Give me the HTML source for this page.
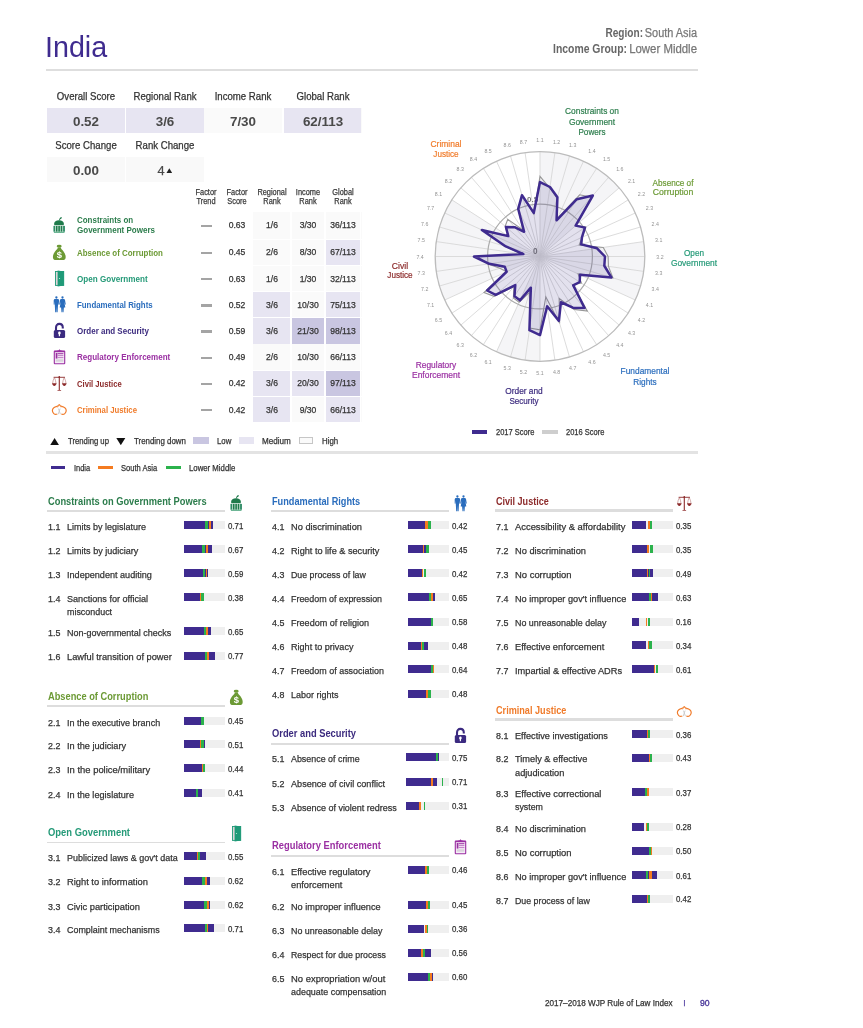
<!DOCTYPE html>
<html><head><meta charset="utf-8"><title>India - WJP Rule of Law Index</title>
<style>
html,body{margin:0;padding:0;background:#fff;}
body{width:863px;height:1028px;position:relative;overflow:hidden;font-family:"Liberation Sans",sans-serif;}
.t{position:absolute;white-space:nowrap;line-height:1;-webkit-text-stroke:0.25px;}
.b{-webkit-text-stroke:0;}
.r,.a{position:absolute;}
#page{position:absolute;left:0;top:0;width:863px;height:1028px;will-change:transform;}
svg text{font-family:"Liberation Sans",sans-serif;}
</style></head><body>

<div id="page">
<div class="t" style="top:32px;font-size:29.80px;color:#3f2b8f;-webkit-text-stroke:0.00px;left:44.90px;transform:scaleX(0.9626);transform-origin:0 0;">India</div>
<div class="t" style="top:27px;font-size:12.00px;color:#777;left:397.20px;width:300px;text-align:right;transform:scaleX(0.9098);transform-origin:100% 0;">South Asia</div>
<div class="t b" style="top:27px;font-size:12.00px;color:#666;font-weight:700;left:342.60px;width:300px;text-align:right;transform:scaleX(0.8397);transform-origin:100% 0;">Region:</div>
<div class="t" style="top:43px;font-size:12.00px;color:#777;left:397.20px;width:300px;text-align:right;transform:scaleX(0.9501);transform-origin:100% 0;">Lower Middle</div>
<div class="t b" style="top:43px;font-size:12.00px;color:#666;font-weight:700;left:327.00px;width:300px;text-align:right;transform:scaleX(0.8672);transform-origin:100% 0;">Income Group:</div>
<div class="r" style="left:46.00px;top:69.20px;width:651.50px;height:1.90px;background:#dedede;"></div>
<div class="r" style="left:47.00px;top:108.30px;width:77.90px;height:24.50px;background:#e7e5f2;"></div>
<div class="t" style="top:92px;font-size:10.30px;color:#333;left:-64.10px;width:300px;text-align:center;transform:scaleX(0.9340);transform-origin:50% 0;">Overall Score</div>
<div class="t b" style="top:116px;font-size:12.80px;color:#4a4a4a;font-weight:700;left:-64.10px;width:300px;text-align:center;transform:scaleX(1.0469);transform-origin:50% 0;">0.52</div>
<div class="r" style="left:126.00px;top:108.30px;width:77.90px;height:24.50px;background:#e7e5f2;"></div>
<div class="t" style="top:92px;font-size:10.30px;color:#333;left:14.90px;width:300px;text-align:center;transform:scaleX(0.9340);transform-origin:50% 0;">Regional Rank</div>
<div class="t b" style="top:116px;font-size:12.80px;color:#4a4a4a;font-weight:700;left:14.90px;width:300px;text-align:center;transform:scaleX(1.0469);transform-origin:50% 0;">3/6</div>
<div class="r" style="left:204.30px;top:108.30px;width:77.90px;height:24.50px;background:#fafafa;"></div>
<div class="t" style="top:92px;font-size:10.30px;color:#333;left:93.20px;width:300px;text-align:center;transform:scaleX(0.9340);transform-origin:50% 0;">Income Rank</div>
<div class="t b" style="top:116px;font-size:12.80px;color:#4a4a4a;font-weight:700;left:93.20px;width:300px;text-align:center;transform:scaleX(1.0469);transform-origin:50% 0;">7/30</div>
<div class="r" style="left:283.60px;top:108.30px;width:77.90px;height:24.50px;background:#e7e5f2;"></div>
<div class="t" style="top:92px;font-size:10.30px;color:#333;left:172.50px;width:300px;text-align:center;transform:scaleX(0.9340);transform-origin:50% 0;">Global Rank</div>
<div class="t b" style="top:116px;font-size:12.80px;color:#4a4a4a;font-weight:700;left:172.50px;width:300px;text-align:center;transform:scaleX(1.0469);transform-origin:50% 0;">62/113</div>
<div class="r" style="left:360.60px;top:108.30px;width:1.20px;height:24.40px;background:#fafafa;"></div>
<div class="r" style="left:47.00px;top:157.00px;width:77.90px;height:25.30px;background:#f9f9f9;"></div>
<div class="t" style="top:141px;font-size:10.30px;color:#333;left:-64.10px;width:300px;text-align:center;transform:scaleX(0.9340);transform-origin:50% 0;">Score Change</div>
<div class="r" style="left:126.00px;top:157.00px;width:77.90px;height:25.30px;background:#f9f9f9;"></div>
<div class="t" style="top:141px;font-size:10.30px;color:#333;left:14.90px;width:300px;text-align:center;transform:scaleX(0.9340);transform-origin:50% 0;">Rank Change</div>
<div class="t b" style="top:165px;font-size:12.80px;color:#4a4a4a;font-weight:700;left:-64.10px;width:300px;text-align:center;transform:scaleX(1.0469);transform-origin:50% 0;">0.00</div>
<div class="t" style="top:165px;font-size:12.80px;color:#4a4a4a;left:11.00px;width:300px;text-align:center;">4</div>
<svg class="a" style="left:165.9px;top:167.8px" width="6.6" height="5.4" viewBox="0 0 6 5"><path d="M3 0.3L5.6 4.6H0.4Z" fill="#222"/></svg>
<div class="t" style="top:189px;font-size:8.20px;color:#3a3a3a;left:56.20px;width:300px;text-align:center;transform:scaleX(0.9024);transform-origin:50% 0;">Factor</div>
<div class="t" style="top:198px;font-size:8.20px;color:#3a3a3a;left:56.20px;width:300px;text-align:center;transform:scaleX(0.9024);transform-origin:50% 0;">Trend</div>
<div class="t" style="top:189px;font-size:8.20px;color:#3a3a3a;left:87.00px;width:300px;text-align:center;transform:scaleX(0.9024);transform-origin:50% 0;">Factor</div>
<div class="t" style="top:198px;font-size:8.20px;color:#3a3a3a;left:87.00px;width:300px;text-align:center;transform:scaleX(0.9024);transform-origin:50% 0;">Score</div>
<div class="t" style="top:189px;font-size:8.20px;color:#3a3a3a;left:121.60px;width:300px;text-align:center;transform:scaleX(0.9024);transform-origin:50% 0;">Regional</div>
<div class="t" style="top:198px;font-size:8.20px;color:#3a3a3a;left:121.60px;width:300px;text-align:center;transform:scaleX(0.9024);transform-origin:50% 0;">Rank</div>
<div class="t" style="top:189px;font-size:8.20px;color:#3a3a3a;left:158.00px;width:300px;text-align:center;transform:scaleX(0.9024);transform-origin:50% 0;">Income</div>
<div class="t" style="top:198px;font-size:8.20px;color:#3a3a3a;left:158.00px;width:300px;text-align:center;transform:scaleX(0.9024);transform-origin:50% 0;">Rank</div>
<div class="t" style="top:189px;font-size:8.20px;color:#3a3a3a;left:193.00px;width:300px;text-align:center;transform:scaleX(0.9024);transform-origin:50% 0;">Global</div>
<div class="t" style="top:198px;font-size:8.20px;color:#3a3a3a;left:193.00px;width:300px;text-align:center;transform:scaleX(0.9024);transform-origin:50% 0;">Rank</div>
<div class="r" style="left:253.30px;top:211.60px;width:36.30px;height:27.20px;background:#fafafa;"></div>
<div class="r" style="left:291.60px;top:211.60px;width:32.70px;height:27.20px;background:#fafafa;"></div>
<div class="r" style="left:325.80px;top:211.60px;width:34.40px;height:27.20px;background:#fafafa;"></div>
<div class="r" style="left:360.90px;top:211.60px;width:1.00px;height:27.20px;background:#fafafa;"></div>
<div class="r" style="left:201.00px;top:224.60px;width:10.70px;height:2.50px;background:#a4a4a4;"></div>
<div class="t" style="top:221px;font-size:8.90px;color:#333;left:87.00px;width:300px;text-align:center;transform:scaleX(0.9663);transform-origin:50% 0;">0.63</div>
<div class="t" style="top:221px;font-size:8.90px;color:#333;left:121.60px;width:300px;text-align:center;transform:scaleX(0.9663);transform-origin:50% 0;">1/6</div>
<div class="t" style="top:221px;font-size:8.90px;color:#333;left:158.00px;width:300px;text-align:center;transform:scaleX(0.9663);transform-origin:50% 0;">3/30</div>
<div class="t" style="top:221px;font-size:8.90px;color:#333;left:193.00px;width:300px;text-align:center;transform:scaleX(0.9663);transform-origin:50% 0;">36/113</div>
<div class="t b" style="top:216px;font-size:8.80px;color:#2c7d4c;font-weight:700;left:76.70px;transform:scaleX(0.9052);transform-origin:0 0;">Constraints on</div>
<div class="t b" style="top:226px;font-size:8.80px;color:#2c7d4c;font-weight:700;left:76.70px;transform:scaleX(0.9115);transform-origin:0 0;">Government Powers</div>
<svg class="a" style="left:51px;top:215.70px" width="17" height="18" viewBox="0 0 17 18"><g fill="#1f7a4b"> <path d="M7.9 4.2L8.6 2.4C9 1.4 10.2 1 10.9 1.3C10.9 2.3 10.2 3.1 9.2 3.2L8.7 4.4Z"/> <path d="M3.2 9.2V7.6C3.2 5.6 5 4.3 8 4.3C11 4.3 12.8 5.6 12.8 7.6V9.2Z"/> <rect x="2.5" y="9.9" width="11.4" height="5.8" fill="#d3eadf"/> <rect x="2.5" y="9.9" width="1.6" height="5.8" fill="#2c8a64"/> <rect x="4.9" y="9.9" width="1.6" height="5.8"/> <rect x="7.3" y="9.9" width="1.6" height="5.8"/> <rect x="9.7" y="9.9" width="1.6" height="5.8"/> <rect x="12.1" y="9.9" width="1.8" height="5.8" fill="#2c8a64"/> <rect x="2.9" y="15.7" width="10.6" height="1.2" fill="#5fae8b"/></g></svg>
<div class="r" style="left:253.30px;top:239.60px;width:36.30px;height:25.40px;background:#fafafa;"></div>
<div class="r" style="left:291.60px;top:239.60px;width:32.70px;height:25.40px;background:#fafafa;"></div>
<div class="r" style="left:325.80px;top:239.60px;width:34.40px;height:25.40px;background:#e7e5f2;"></div>
<div class="r" style="left:360.90px;top:239.60px;width:1.00px;height:25.40px;background:#fafafa;"></div>
<div class="r" style="left:201.00px;top:251.70px;width:10.70px;height:2.50px;background:#a4a4a4;"></div>
<div class="t" style="top:248px;font-size:8.90px;color:#333;left:87.00px;width:300px;text-align:center;transform:scaleX(0.9663);transform-origin:50% 0;">0.45</div>
<div class="t" style="top:248px;font-size:8.90px;color:#333;left:121.60px;width:300px;text-align:center;transform:scaleX(0.9663);transform-origin:50% 0;">2/6</div>
<div class="t" style="top:248px;font-size:8.90px;color:#333;left:158.00px;width:300px;text-align:center;transform:scaleX(0.9663);transform-origin:50% 0;">8/30</div>
<div class="t" style="top:248px;font-size:8.90px;color:#333;left:193.00px;width:300px;text-align:center;transform:scaleX(0.9663);transform-origin:50% 0;">67/113</div>
<div class="t b" style="top:249px;font-size:8.80px;color:#6c9a35;font-weight:700;left:76.70px;transform:scaleX(0.9021);transform-origin:0 0;">Absence of Corruption</div>
<svg class="a" style="left:51px;top:242.80px" width="17" height="18" viewBox="0 0 17 18"><g fill="#6c9a35"> <ellipse cx="8.2" cy="3.2" rx="2.5" ry="1.45"/> <path d="M6.9 4.4H9.9L10.3 6C11.6 7.2 14.7 10.4 14.7 13.9C14.7 16.2 13.4 17 11.6 17H5C3.2 17 1.9 16.2 1.9 13.9C1.9 10.4 5 7.2 6.3 6Z"/> <text x="8.3" y="15.3" font-size="9.4" font-weight="700" fill="#fff" text-anchor="middle" font-family="Liberation Serif, serif">$</text></g></svg>
<div class="r" style="left:253.30px;top:265.80px;width:36.30px;height:25.40px;background:#fafafa;"></div>
<div class="r" style="left:291.60px;top:265.80px;width:32.70px;height:25.40px;background:#fafafa;"></div>
<div class="r" style="left:325.80px;top:265.80px;width:34.40px;height:25.40px;background:#fafafa;"></div>
<div class="r" style="left:360.90px;top:265.80px;width:1.00px;height:25.40px;background:#fafafa;"></div>
<div class="r" style="left:201.00px;top:277.90px;width:10.70px;height:2.50px;background:#a4a4a4;"></div>
<div class="t" style="top:275px;font-size:8.90px;color:#333;left:87.00px;width:300px;text-align:center;transform:scaleX(0.9663);transform-origin:50% 0;">0.63</div>
<div class="t" style="top:275px;font-size:8.90px;color:#333;left:121.60px;width:300px;text-align:center;transform:scaleX(0.9663);transform-origin:50% 0;">1/6</div>
<div class="t" style="top:275px;font-size:8.90px;color:#333;left:158.00px;width:300px;text-align:center;transform:scaleX(0.9663);transform-origin:50% 0;">1/30</div>
<div class="t" style="top:275px;font-size:8.90px;color:#333;left:193.00px;width:300px;text-align:center;transform:scaleX(0.9663);transform-origin:50% 0;">32/113</div>
<div class="t b" style="top:275px;font-size:8.80px;color:#259a78;font-weight:700;left:76.70px;transform:scaleX(0.9210);transform-origin:0 0;">Open Government</div>
<svg class="a" style="left:51px;top:269.00px" width="17" height="18" viewBox="0 0 17 18"><g> <rect x="4.5" y="2.5" width="8.2" height="13.9" fill="#ddd6d8" stroke="#1f9a78" stroke-width="0.9"/> <path d="M6.6 1.6L12.9 2.4V16.6L6.6 17.4Z" fill="#1f9a78"/> <circle cx="8.5" cy="9.5" r="0.6" fill="#bfeadb"/></g></svg>
<div class="r" style="left:253.30px;top:292.00px;width:36.30px;height:25.40px;background:#e7e5f2;"></div>
<div class="r" style="left:291.60px;top:292.00px;width:32.70px;height:25.40px;background:#fafafa;"></div>
<div class="r" style="left:325.80px;top:292.00px;width:34.40px;height:25.40px;background:#e7e5f2;"></div>
<div class="r" style="left:360.90px;top:292.00px;width:1.00px;height:25.40px;background:#fafafa;"></div>
<div class="r" style="left:201.00px;top:304.10px;width:10.70px;height:2.50px;background:#a4a4a4;"></div>
<div class="t" style="top:301px;font-size:8.90px;color:#333;left:87.00px;width:300px;text-align:center;transform:scaleX(0.9663);transform-origin:50% 0;">0.52</div>
<div class="t" style="top:301px;font-size:8.90px;color:#333;left:121.60px;width:300px;text-align:center;transform:scaleX(0.9663);transform-origin:50% 0;">3/6</div>
<div class="t" style="top:301px;font-size:8.90px;color:#333;left:158.00px;width:300px;text-align:center;transform:scaleX(0.9663);transform-origin:50% 0;">10/30</div>
<div class="t" style="top:301px;font-size:8.90px;color:#333;left:193.00px;width:300px;text-align:center;transform:scaleX(0.9663);transform-origin:50% 0;">75/113</div>
<div class="t b" style="top:301px;font-size:8.80px;color:#2a6dbd;font-weight:700;left:76.70px;transform:scaleX(0.8951);transform-origin:0 0;">Fundamental Rights</div>
<svg class="a" style="left:51px;top:295.20px" width="17" height="18" viewBox="0 0 17 18"><g fill="#2a6dbd"> <circle cx="5.4" cy="2.5" r="1.15"/> <path d="M4.2 3.9H6.6C7.6 3.9 8.1 4.6 8.1 5.5V9.6L7.4 9.7L7.2 6.6L6.6 17.3H5.6L5.4 11.6L5.2 17.3H4.2L3.6 6.6L3.4 9.7L2.7 9.6V5.5C2.7 4.6 3.2 3.9 4.2 3.9Z"/> <circle cx="11.5" cy="2.5" r="1.15"/> <path d="M10.4 3.9H12.6C13.4 3.9 13.8 4.4 14 5.1L14.8 9.4L14.1 9.6L13.3 6.8L14.3 12.6H12.9L12.5 17.3H11.7L11.5 13L11.3 17.3H10.5L10.1 12.6H8.7L9.7 6.8L8.9 9.6L8.2 9.4L9 5.1C9.2 4.4 9.6 3.9 10.4 3.9Z"/></g></svg>
<div class="r" style="left:253.30px;top:318.20px;width:36.30px;height:25.40px;background:#e7e5f2;"></div>
<div class="r" style="left:291.60px;top:318.20px;width:32.70px;height:25.40px;background:#c9c6e1;"></div>
<div class="r" style="left:325.80px;top:318.20px;width:34.40px;height:25.40px;background:#c9c6e1;"></div>
<div class="r" style="left:360.90px;top:318.20px;width:1.00px;height:25.40px;background:#fafafa;"></div>
<div class="r" style="left:201.00px;top:330.30px;width:10.70px;height:2.50px;background:#a4a4a4;"></div>
<div class="t" style="top:327px;font-size:8.90px;color:#333;left:87.00px;width:300px;text-align:center;transform:scaleX(0.9663);transform-origin:50% 0;">0.59</div>
<div class="t" style="top:327px;font-size:8.90px;color:#333;left:121.60px;width:300px;text-align:center;transform:scaleX(0.9663);transform-origin:50% 0;">3/6</div>
<div class="t" style="top:327px;font-size:8.90px;color:#333;left:158.00px;width:300px;text-align:center;transform:scaleX(0.9663);transform-origin:50% 0;">21/30</div>
<div class="t" style="top:327px;font-size:8.90px;color:#333;left:193.00px;width:300px;text-align:center;transform:scaleX(0.9663);transform-origin:50% 0;">98/113</div>
<div class="t b" style="top:327px;font-size:8.80px;color:#3b2a7e;font-weight:700;left:76.70px;transform:scaleX(0.9076);transform-origin:0 0;">Order and Security</div>
<svg class="a" style="left:51px;top:321.40px" width="17" height="18" viewBox="0 0 17 18"><g> <path d="M5 9.5V6.7C5 4.3 6.4 2.9 8.4 2.9C10.4 2.9 11.8 4.3 11.8 6.7V7.4" fill="none" stroke="#3b2a80" stroke-width="2.1"/> <rect x="2.8" y="9" width="11.3" height="7.9" rx="1.5" fill="#3b2a80"/> <circle cx="8.4" cy="11.9" r="1.3" fill="#fff"/> <path d="M7.6 12.2H9.2L8.9 15.2H7.9Z" fill="#fff"/></g></svg>
<div class="r" style="left:253.30px;top:344.40px;width:36.30px;height:25.40px;background:#fafafa;"></div>
<div class="r" style="left:291.60px;top:344.40px;width:32.70px;height:25.40px;background:#fafafa;"></div>
<div class="r" style="left:325.80px;top:344.40px;width:34.40px;height:25.40px;background:#fafafa;"></div>
<div class="r" style="left:360.90px;top:344.40px;width:1.00px;height:25.40px;background:#fafafa;"></div>
<div class="r" style="left:201.00px;top:356.50px;width:10.70px;height:2.50px;background:#a4a4a4;"></div>
<div class="t" style="top:353px;font-size:8.90px;color:#333;left:87.00px;width:300px;text-align:center;transform:scaleX(0.9663);transform-origin:50% 0;">0.49</div>
<div class="t" style="top:353px;font-size:8.90px;color:#333;left:121.60px;width:300px;text-align:center;transform:scaleX(0.9663);transform-origin:50% 0;">2/6</div>
<div class="t" style="top:353px;font-size:8.90px;color:#333;left:158.00px;width:300px;text-align:center;transform:scaleX(0.9663);transform-origin:50% 0;">10/30</div>
<div class="t" style="top:353px;font-size:8.90px;color:#333;left:193.00px;width:300px;text-align:center;transform:scaleX(0.9663);transform-origin:50% 0;">66/113</div>
<div class="t b" style="top:353px;font-size:8.80px;color:#9a2fa2;font-weight:700;left:76.70px;transform:scaleX(0.9130);transform-origin:0 0;">Regulatory Enforcement</div>
<svg class="a" style="left:51px;top:347.60px" width="17" height="18" viewBox="0 0 17 18"><g> <rect x="3.3" y="3.1" width="10.4" height="12.6" rx="0.5" fill="#f6edf7" stroke="#9a2fa2" stroke-width="1.1"/> <path d="M5.6 3.6V2.7L7.4 2.5L8.5 1.2L9.6 2.5L11.4 2.7V3.6Z" fill="#9a2fa2"/> <rect x="3.4" y="2.9" width="10.2" height="1.3" fill="#9a2fa2"/> <rect x="4.7" y="5" width="1.7" height="5.6" fill="#9a2fa2"/> <rect x="6.6" y="5.2" width="5.8" height="1" fill="#9a2fa2"/> <rect x="6.6" y="7.2" width="5.8" height="0.9" fill="#b971bf"/> <rect x="6.6" y="9.2" width="5.8" height="0.9" fill="#b971bf"/> <rect x="4.7" y="11.3" width="7.7" height="2.4" fill="#d9d3da"/></g></svg>
<div class="r" style="left:253.30px;top:370.60px;width:36.30px;height:25.40px;background:#e7e5f2;"></div>
<div class="r" style="left:291.60px;top:370.60px;width:32.70px;height:25.40px;background:#e7e5f2;"></div>
<div class="r" style="left:325.80px;top:370.60px;width:34.40px;height:25.40px;background:#c9c6e1;"></div>
<div class="r" style="left:360.90px;top:370.60px;width:1.00px;height:25.40px;background:#fafafa;"></div>
<div class="r" style="left:201.00px;top:382.70px;width:10.70px;height:2.50px;background:#a4a4a4;"></div>
<div class="t" style="top:379px;font-size:8.90px;color:#333;left:87.00px;width:300px;text-align:center;transform:scaleX(0.9663);transform-origin:50% 0;">0.42</div>
<div class="t" style="top:379px;font-size:8.90px;color:#333;left:121.60px;width:300px;text-align:center;transform:scaleX(0.9663);transform-origin:50% 0;">3/6</div>
<div class="t" style="top:379px;font-size:8.90px;color:#333;left:158.00px;width:300px;text-align:center;transform:scaleX(0.9663);transform-origin:50% 0;">20/30</div>
<div class="t" style="top:379px;font-size:8.90px;color:#333;left:193.00px;width:300px;text-align:center;transform:scaleX(0.9663);transform-origin:50% 0;">97/113</div>
<div class="t b" style="top:380px;font-size:8.80px;color:#8c2a2a;font-weight:700;left:76.70px;transform:scaleX(0.8705);transform-origin:0 0;">Civil Justice</div>
<svg class="a" style="left:51px;top:373.80px" width="17" height="18" viewBox="0 0 17 18"><g stroke="#8c2a2a" fill="none"> <path d="M8.3 2.2V16.3" stroke-width="1.1"/> <path d="M6.5 16.5H10.1" stroke-width="0.9" stroke="#a85a5a"/> <path d="M2.6 3.3H14" stroke-width="0.9"/> <circle cx="8.3" cy="3.1" r="0.85" fill="#8c2a2a" stroke="none"/> <path d="M3.3 3.6C2.3 5.5 1.7 7.8 1.6 9.4M3.5 3.6C4.3 5.5 4.9 7.8 5 9.4M13.1 3.6C12.3 5.5 11.7 7.8 11.6 9.4M13.3 3.6C14.3 5.5 14.9 7.8 15 9.4" stroke-width="0.45" stroke="#a04a4a"/> <path d="M1 9.3H5.6C5.4 10.6 4.4 12 3.3 12C2.2 12 1.2 10.6 1 9.3Z" fill="#8c2a2a" stroke="none"/> <path d="M11 9.3H15.6C15.4 10.6 14.4 12 13.3 12C12.2 12 11.2 10.6 11 9.3Z" fill="#8c2a2a" stroke="none"/></g></svg>
<div class="r" style="left:253.30px;top:396.80px;width:36.30px;height:25.40px;background:#e7e5f2;"></div>
<div class="r" style="left:291.60px;top:396.80px;width:32.70px;height:25.40px;background:#fafafa;"></div>
<div class="r" style="left:325.80px;top:396.80px;width:34.40px;height:25.40px;background:#e7e5f2;"></div>
<div class="r" style="left:360.90px;top:396.80px;width:1.00px;height:25.40px;background:#fafafa;"></div>
<div class="r" style="left:201.00px;top:408.90px;width:10.70px;height:2.50px;background:#a4a4a4;"></div>
<div class="t" style="top:406px;font-size:8.90px;color:#333;left:87.00px;width:300px;text-align:center;transform:scaleX(0.9663);transform-origin:50% 0;">0.42</div>
<div class="t" style="top:406px;font-size:8.90px;color:#333;left:121.60px;width:300px;text-align:center;transform:scaleX(0.9663);transform-origin:50% 0;">3/6</div>
<div class="t" style="top:406px;font-size:8.90px;color:#333;left:158.00px;width:300px;text-align:center;transform:scaleX(0.9663);transform-origin:50% 0;">9/30</div>
<div class="t" style="top:406px;font-size:8.90px;color:#333;left:193.00px;width:300px;text-align:center;transform:scaleX(0.9663);transform-origin:50% 0;">66/113</div>
<div class="t b" style="top:406px;font-size:8.80px;color:#f07b2a;font-weight:700;left:76.70px;transform:scaleX(0.8826);transform-origin:0 0;">Criminal Justice</div>
<svg class="a" style="left:51px;top:400.00px" width="17" height="18" viewBox="0 0 17 18"><g fill="none"> <path d="M7.5 8.6L9.4 14.2M9.1 8.6L7.2 14.2" stroke="#c9c9c9" stroke-width="0.9"/> <path d="M6.3 14C3.6 15.2 1.2 13 1.4 10.3C1.6 7.8 4 6.9 6 6.4C7.2 6.1 8 5.4 8.3 4.3" stroke="#f07b2a" stroke-width="1.2"/> <path d="M10.3 14C13 15.2 15.4 13 15.2 10.3C15 7.8 12.6 6.9 10.6 6.4C9.4 6.1 8.6 5.4 8.3 4.3" stroke="#f07b2a" stroke-width="1.2"/> <path d="M7.3 5.2L6.6 7.4M9.3 5.2L10 7.4" stroke="#f39a5c" stroke-width="0.9"/></g></svg>
<svg class="a" style="left:50.1px;top:437.8px" width="9.2" height="7.2" viewBox="0 0 10 8"><path d="M5 0L10 8H0Z" fill="#111"/></svg>
<div class="t" style="top:437px;font-size:8.60px;color:#333;left:67.60px;transform:scaleX(0.8996);transform-origin:0 0;">Trending up</div>
<svg class="a" style="left:116.2px;top:438.2px" width="9.6" height="7.2" viewBox="0 0 10 8"><path d="M0 0H10L5 8Z" fill="#111"/></svg>
<div class="t" style="top:437px;font-size:8.60px;color:#333;left:133.80px;transform:scaleX(0.9193);transform-origin:0 0;">Trending down</div>
<div class="r" style="left:193.30px;top:436.80px;width:15.40px;height:7.70px;background:#c9c6e1;"></div>
<div class="t" style="top:437px;font-size:8.60px;color:#333;left:216.80px;transform:scaleX(0.9065);transform-origin:0 0;">Low</div>
<div class="r" style="left:238.80px;top:436.80px;width:15.00px;height:7.70px;background:#e7e5f2;"></div>
<div class="t" style="top:437px;font-size:8.60px;color:#333;left:262.00px;transform:scaleX(0.9416);transform-origin:0 0;">Medium</div>
<div class="r" style="left:298.80px;top:436.80px;width:13.80px;height:7.40px;background:#fafafa;box-sizing:border-box;border:1px solid #c6c6c6;"></div>
<div class="t" style="top:437px;font-size:8.60px;color:#333;left:321.80px;transform:scaleX(0.9160);transform-origin:0 0;">High</div>
<div class="r" style="left:46.00px;top:451.10px;width:651.50px;height:2.80px;background:#e3e3e3;"></div>
<div class="r" style="left:50.50px;top:466.20px;width:14.20px;height:2.60px;background:#3f2b8f;"></div>
<div class="t" style="top:464px;font-size:8.40px;color:#333;left:73.80px;transform:scaleX(0.8894);transform-origin:0 0;">India</div>
<div class="r" style="left:98.00px;top:466.20px;width:15.20px;height:2.60px;background:#f47b20;"></div>
<div class="t" style="top:464px;font-size:8.40px;color:#333;left:121.30px;transform:scaleX(0.9014);transform-origin:0 0;">South Asia</div>
<div class="r" style="left:165.80px;top:466.20px;width:15.20px;height:2.60px;background:#2bb24c;"></div>
<div class="t" style="top:464px;font-size:8.40px;color:#333;left:189.30px;transform:scaleX(0.9289);transform-origin:0 0;">Lower Middle</div>
<svg class="a" style="left:0;top:0" width="863" height="460" viewBox="0 0 863 460">
<path d="M540.00 256.50L540.00 151.70A104.80 104.80 0 0 1 619.20 187.87Z" fill="#f5f5f7"/>
<path d="M540.00 256.50L643.73 241.59A104.80 104.80 0 0 1 635.33 300.04Z" fill="#f5f5f7"/>
<path d="M540.00 256.50L540.00 361.30A104.80 104.80 0 0 1 496.46 351.83Z" fill="#f5f5f7"/>
<path d="M540.00 256.50L444.67 300.04A104.80 104.80 0 0 1 451.84 199.84Z" fill="#f5f5f7"/>
<path d="M540.00 256.50L540.00 151.70M540.00 256.50L554.91 152.77M540.00 256.50L569.53 155.95M540.00 256.50L583.54 161.17M540.00 256.50L596.66 168.34M540.00 256.50L608.63 177.30M540.00 256.50L619.20 187.87M540.00 256.50L628.16 199.84M540.00 256.50L635.33 212.96M540.00 256.50L640.55 226.97M540.00 256.50L643.73 241.59M540.00 256.50L644.80 256.50M540.00 256.50L643.73 271.41M540.00 256.50L640.55 286.03M540.00 256.50L635.33 300.04M540.00 256.50L628.16 313.16M540.00 256.50L619.20 325.13M540.00 256.50L608.63 335.70M540.00 256.50L596.66 344.66M540.00 256.50L583.54 351.83M540.00 256.50L569.53 357.05M540.00 256.50L554.91 360.23M540.00 256.50L540.00 361.30M540.00 256.50L525.09 360.23M540.00 256.50L510.47 357.05M540.00 256.50L496.46 351.83M540.00 256.50L483.34 344.66M540.00 256.50L471.37 335.70M540.00 256.50L460.80 325.13M540.00 256.50L451.84 313.16M540.00 256.50L444.67 300.04M540.00 256.50L439.45 286.03M540.00 256.50L436.27 271.41M540.00 256.50L435.20 256.50M540.00 256.50L436.27 241.59M540.00 256.50L439.45 226.97M540.00 256.50L444.67 212.96M540.00 256.50L451.84 199.84M540.00 256.50L460.80 187.87M540.00 256.50L471.37 177.30M540.00 256.50L483.34 168.34M540.00 256.50L496.46 161.17M540.00 256.50L510.47 155.95M540.00 256.50L525.09 152.77" stroke="#d6d6d6" stroke-width="0.85" fill="none"/>
<circle cx="540.00" cy="256.50" r="104.80" fill="none" stroke="#bcbcbc" stroke-width="1.3"/>
<circle cx="540.00" cy="256.50" r="52.40" fill="none" stroke="#ababab" stroke-width="1.2"/>
<text x="532.6" y="202.3" font-size="8" font-weight="700" fill="#777" text-anchor="middle">0.5</text>
<text x="535.3" y="254.1" font-size="8.2" font-weight="700" fill="#777" text-anchor="middle">0</text>
<polygon points="540.00,176.33 549.84,188.04 557.12,198.18 557.41,218.37 579.66,194.79 591.47,197.10 575.64,225.62 585.84,227.04 581.94,237.34 579.22,244.99 603.28,247.40 608.12,256.50 608.46,266.34 612.90,277.91 578.13,273.91 581.44,283.13 572.47,284.64 587.35,311.15 574.00,309.40 559.16,298.44 559.63,323.37 545.82,296.96 540.00,329.86 529.71,328.08 529.37,292.70 519.10,302.26 513.37,297.94 513.92,286.60 494.06,296.31 484.02,292.48 506.63,271.74 499.78,268.31 488.13,263.96 477.12,256.50 521.33,253.82 503.80,245.87 484.71,231.25 508.26,236.10 505.15,226.30 507.74,219.27 523.00,230.05 518.23,208.84 522.28,196.17 533.89,213.97" fill="rgba(150,150,160,0.03)" stroke="#989898" stroke-width="1.1" stroke-linejoin="miter"/>
<polygon points="540.00,182.09 549.99,187.00 557.42,197.17 556.54,220.27 576.83,199.19 592.84,195.51 575.64,225.62 584.96,227.60 581.94,237.34 581.23,244.39 597.05,248.30 604.98,256.50 604.31,265.75 611.39,277.46 580.04,274.78 579.67,282.00 573.27,285.32 584.61,307.98 572.86,307.63 560.90,302.26 558.90,320.86 547.16,306.29 540.00,335.10 529.41,330.15 530.85,287.67 519.97,300.35 514.50,296.17 515.29,285.01 495.65,294.93 487.10,290.50 506.63,271.74 504.81,266.83 489.17,263.81 473.98,256.50 523.40,254.11 505.81,246.46 481.85,229.94 508.26,236.10 505.94,226.99 514.61,227.20 524.14,231.81 518.23,208.84 521.99,195.16 533.74,212.93" fill="rgba(63,43,143,0.135)" stroke="#3f2b8f" stroke-width="2.5" stroke-linejoin="round"/>
<text x="540.00" y="142.40" font-size="6" fill="#939393" text-anchor="middle" textLength="7.3" lengthAdjust="spacingAndGlyphs">1.1</text>
<text x="556.55" y="143.58" font-size="6" fill="#939393" text-anchor="middle" textLength="7.3" lengthAdjust="spacingAndGlyphs">1.2</text>
<text x="572.77" y="147.11" font-size="6" fill="#939393" text-anchor="middle" textLength="7.3" lengthAdjust="spacingAndGlyphs">1.3</text>
<text x="588.31" y="152.91" font-size="6" fill="#939393" text-anchor="start" textLength="7.3" lengthAdjust="spacingAndGlyphs">1.4</text>
<text x="602.88" y="160.86" font-size="6" fill="#939393" text-anchor="start" textLength="7.3" lengthAdjust="spacingAndGlyphs">1.5</text>
<text x="616.16" y="170.81" font-size="6" fill="#939393" text-anchor="start" textLength="7.3" lengthAdjust="spacingAndGlyphs">1.6</text>
<text x="627.89" y="182.54" font-size="6" fill="#939393" text-anchor="start" textLength="7.3" lengthAdjust="spacingAndGlyphs">2.1</text>
<text x="637.84" y="195.82" font-size="6" fill="#939393" text-anchor="start" textLength="7.3" lengthAdjust="spacingAndGlyphs">2.2</text>
<text x="645.79" y="210.39" font-size="6" fill="#939393" text-anchor="start" textLength="7.3" lengthAdjust="spacingAndGlyphs">2.3</text>
<text x="651.59" y="225.93" font-size="6" fill="#939393" text-anchor="start" textLength="7.3" lengthAdjust="spacingAndGlyphs">2.4</text>
<text x="655.12" y="242.15" font-size="6" fill="#939393" text-anchor="start" textLength="7.3" lengthAdjust="spacingAndGlyphs">3.1</text>
<text x="656.30" y="258.70" font-size="6" fill="#939393" text-anchor="start" textLength="7.3" lengthAdjust="spacingAndGlyphs">3.2</text>
<text x="655.12" y="275.25" font-size="6" fill="#939393" text-anchor="start" textLength="7.3" lengthAdjust="spacingAndGlyphs">3.3</text>
<text x="651.59" y="291.47" font-size="6" fill="#939393" text-anchor="start" textLength="7.3" lengthAdjust="spacingAndGlyphs">3.4</text>
<text x="645.79" y="307.01" font-size="6" fill="#939393" text-anchor="start" textLength="7.3" lengthAdjust="spacingAndGlyphs">4.1</text>
<text x="637.84" y="321.58" font-size="6" fill="#939393" text-anchor="start" textLength="7.3" lengthAdjust="spacingAndGlyphs">4.2</text>
<text x="627.89" y="334.86" font-size="6" fill="#939393" text-anchor="start" textLength="7.3" lengthAdjust="spacingAndGlyphs">4.3</text>
<text x="616.16" y="346.59" font-size="6" fill="#939393" text-anchor="start" textLength="7.3" lengthAdjust="spacingAndGlyphs">4.4</text>
<text x="602.88" y="356.54" font-size="6" fill="#939393" text-anchor="start" textLength="7.3" lengthAdjust="spacingAndGlyphs">4.5</text>
<text x="588.31" y="364.49" font-size="6" fill="#939393" text-anchor="start" textLength="7.3" lengthAdjust="spacingAndGlyphs">4.6</text>
<text x="572.77" y="370.29" font-size="6" fill="#939393" text-anchor="middle" textLength="7.3" lengthAdjust="spacingAndGlyphs">4.7</text>
<text x="556.55" y="373.82" font-size="6" fill="#939393" text-anchor="middle" textLength="7.3" lengthAdjust="spacingAndGlyphs">4.8</text>
<text x="540.00" y="375.00" font-size="6" fill="#939393" text-anchor="middle" textLength="7.3" lengthAdjust="spacingAndGlyphs">5.1</text>
<text x="523.45" y="373.82" font-size="6" fill="#939393" text-anchor="middle" textLength="7.3" lengthAdjust="spacingAndGlyphs">5.2</text>
<text x="507.23" y="370.29" font-size="6" fill="#939393" text-anchor="middle" textLength="7.3" lengthAdjust="spacingAndGlyphs">5.3</text>
<text x="491.69" y="364.49" font-size="6" fill="#939393" text-anchor="end" textLength="7.3" lengthAdjust="spacingAndGlyphs">6.1</text>
<text x="477.12" y="356.54" font-size="6" fill="#939393" text-anchor="end" textLength="7.3" lengthAdjust="spacingAndGlyphs">6.2</text>
<text x="463.84" y="346.59" font-size="6" fill="#939393" text-anchor="end" textLength="7.3" lengthAdjust="spacingAndGlyphs">6.3</text>
<text x="452.11" y="334.86" font-size="6" fill="#939393" text-anchor="end" textLength="7.3" lengthAdjust="spacingAndGlyphs">6.4</text>
<text x="442.16" y="321.58" font-size="6" fill="#939393" text-anchor="end" textLength="7.3" lengthAdjust="spacingAndGlyphs">6.5</text>
<text x="434.21" y="307.01" font-size="6" fill="#939393" text-anchor="end" textLength="7.3" lengthAdjust="spacingAndGlyphs">7.1</text>
<text x="428.41" y="291.47" font-size="6" fill="#939393" text-anchor="end" textLength="7.3" lengthAdjust="spacingAndGlyphs">7.2</text>
<text x="424.88" y="275.25" font-size="6" fill="#939393" text-anchor="end" textLength="7.3" lengthAdjust="spacingAndGlyphs">7.3</text>
<text x="423.70" y="258.70" font-size="6" fill="#939393" text-anchor="end" textLength="7.3" lengthAdjust="spacingAndGlyphs">7.4</text>
<text x="424.88" y="242.15" font-size="6" fill="#939393" text-anchor="end" textLength="7.3" lengthAdjust="spacingAndGlyphs">7.5</text>
<text x="428.41" y="225.93" font-size="6" fill="#939393" text-anchor="end" textLength="7.3" lengthAdjust="spacingAndGlyphs">7.6</text>
<text x="434.21" y="210.39" font-size="6" fill="#939393" text-anchor="end" textLength="7.3" lengthAdjust="spacingAndGlyphs">7.7</text>
<text x="442.16" y="195.82" font-size="6" fill="#939393" text-anchor="end" textLength="7.3" lengthAdjust="spacingAndGlyphs">8.1</text>
<text x="452.11" y="182.54" font-size="6" fill="#939393" text-anchor="end" textLength="7.3" lengthAdjust="spacingAndGlyphs">8.2</text>
<text x="463.84" y="170.81" font-size="6" fill="#939393" text-anchor="end" textLength="7.3" lengthAdjust="spacingAndGlyphs">8.3</text>
<text x="477.12" y="160.86" font-size="6" fill="#939393" text-anchor="end" textLength="7.3" lengthAdjust="spacingAndGlyphs">8.4</text>
<text x="491.69" y="152.91" font-size="6" fill="#939393" text-anchor="end" textLength="7.3" lengthAdjust="spacingAndGlyphs">8.5</text>
<text x="507.23" y="147.11" font-size="6" fill="#939393" text-anchor="middle" textLength="7.3" lengthAdjust="spacingAndGlyphs">8.6</text>
<text x="523.45" y="143.58" font-size="6" fill="#939393" text-anchor="middle" textLength="7.3" lengthAdjust="spacingAndGlyphs">8.7</text>
</svg>
<div class="t" style="top:107px;font-size:9.00px;color:#2c7d4c;left:441.50px;width:300px;text-align:center;transform:scaleX(0.9272);transform-origin:50% 0;-webkit-text-stroke:0.2px #2c7d4c;">Constraints on</div>
<div class="t" style="top:118px;font-size:9.00px;color:#2c7d4c;left:441.50px;width:300px;text-align:center;transform:scaleX(0.9330);transform-origin:50% 0;-webkit-text-stroke:0.2px #2c7d4c;">Government</div>
<div class="t" style="top:128px;font-size:9.00px;color:#2c7d4c;left:441.50px;width:300px;text-align:center;transform:scaleX(0.9031);transform-origin:50% 0;-webkit-text-stroke:0.2px #2c7d4c;">Powers</div>
<div class="t" style="top:179px;font-size:9.00px;color:#6c9a35;left:522.60px;width:300px;text-align:center;transform:scaleX(0.9061);transform-origin:50% 0;-webkit-text-stroke:0.2px #6c9a35;">Absence of</div>
<div class="t" style="top:188px;font-size:9.00px;color:#6c9a35;left:522.60px;width:300px;text-align:center;transform:scaleX(0.9615);transform-origin:50% 0;-webkit-text-stroke:0.2px #6c9a35;">Corruption</div>
<div class="t" style="top:249px;font-size:9.00px;color:#259a78;left:543.80px;width:300px;text-align:center;transform:scaleX(0.9085);transform-origin:50% 0;-webkit-text-stroke:0.2px #259a78;">Open</div>
<div class="t" style="top:259px;font-size:9.00px;color:#259a78;left:543.80px;width:300px;text-align:center;transform:scaleX(0.9330);transform-origin:50% 0;-webkit-text-stroke:0.2px #259a78;">Government</div>
<div class="t" style="top:367px;font-size:9.00px;color:#2a6dbd;left:494.50px;width:300px;text-align:center;transform:scaleX(0.9290);transform-origin:50% 0;-webkit-text-stroke:0.2px #2a6dbd;">Fundamental</div>
<div class="t" style="top:378px;font-size:9.00px;color:#2a6dbd;left:494.50px;width:300px;text-align:center;transform:scaleX(0.9173);transform-origin:50% 0;-webkit-text-stroke:0.2px #2a6dbd;">Rights</div>
<div class="t" style="top:387px;font-size:9.00px;color:#3b2a7e;left:373.90px;width:300px;text-align:center;transform:scaleX(0.9255);transform-origin:50% 0;-webkit-text-stroke:0.2px #3b2a7e;">Order and</div>
<div class="t" style="top:397px;font-size:9.00px;color:#3b2a7e;left:373.90px;width:300px;text-align:center;transform:scaleX(0.8982);transform-origin:50% 0;-webkit-text-stroke:0.2px #3b2a7e;">Security</div>
<div class="t" style="top:361px;font-size:9.00px;color:#9a2fa2;left:285.60px;width:300px;text-align:center;transform:scaleX(0.9306);transform-origin:50% 0;-webkit-text-stroke:0.2px #9a2fa2;">Regulatory</div>
<div class="t" style="top:371px;font-size:9.00px;color:#9a2fa2;left:285.60px;width:300px;text-align:center;transform:scaleX(0.9408);transform-origin:50% 0;-webkit-text-stroke:0.2px #9a2fa2;">Enforcement</div>
<div class="t" style="top:262px;font-size:9.00px;color:#8c2a2a;left:250.00px;width:300px;text-align:center;transform:scaleX(0.9589);transform-origin:50% 0;-webkit-text-stroke:0.2px #8c2a2a;">Civil</div>
<div class="t" style="top:271px;font-size:9.00px;color:#8c2a2a;left:250.00px;width:300px;text-align:center;transform:scaleX(0.9033);transform-origin:50% 0;-webkit-text-stroke:0.2px #8c2a2a;">Justice</div>
<div class="t" style="top:140px;font-size:9.00px;color:#f07b2a;left:296.20px;width:300px;text-align:center;transform:scaleX(0.9393);transform-origin:50% 0;-webkit-text-stroke:0.2px #f07b2a;">Criminal</div>
<div class="t" style="top:150px;font-size:9.00px;color:#f07b2a;left:296.20px;width:300px;text-align:center;transform:scaleX(0.9033);transform-origin:50% 0;-webkit-text-stroke:0.2px #f07b2a;">Justice</div>
<div class="r" style="left:472.00px;top:430.40px;width:14.70px;height:3.40px;background:#3f2b8f;"></div>
<div class="t" style="top:428px;font-size:8.60px;color:#333;left:495.60px;transform:scaleX(0.8731);transform-origin:0 0;">2017 Score</div>
<div class="r" style="left:542.40px;top:430.40px;width:15.20px;height:3.40px;background:#cecece;"></div>
<div class="t" style="top:428px;font-size:8.60px;color:#333;left:566.00px;transform:scaleX(0.8731);transform-origin:0 0;">2016 Score</div>
<div class="t b" style="top:497px;font-size:10.20px;color:#2c7d4c;font-weight:700;left:47.50px;transform:scaleX(0.9127);transform-origin:0 0;">Constraints on Government Powers</div>
<div class="r" style="left:46.50px;top:509.70px;width:178.50px;height:2.30px;background:#dddddd;"></div>
<svg class="a" style="left:228.00px;top:493.50px" width="17" height="18" viewBox="0 0 17 18"><g fill="#1f7a4b"> <path d="M7.9 4.2L8.6 2.4C9 1.4 10.2 1 10.9 1.3C10.9 2.3 10.2 3.1 9.2 3.2L8.7 4.4Z"/> <path d="M3.2 9.2V7.6C3.2 5.6 5 4.3 8 4.3C11 4.3 12.8 5.6 12.8 7.6V9.2Z"/> <rect x="2.5" y="9.9" width="11.4" height="5.8" fill="#d3eadf"/> <rect x="2.5" y="9.9" width="1.6" height="5.8" fill="#2c8a64"/> <rect x="4.9" y="9.9" width="1.6" height="5.8"/> <rect x="7.3" y="9.9" width="1.6" height="5.8"/> <rect x="9.7" y="9.9" width="1.6" height="5.8"/> <rect x="12.1" y="9.9" width="1.8" height="5.8" fill="#2c8a64"/> <rect x="2.9" y="15.7" width="10.6" height="1.2" fill="#5fae8b"/></g></svg>
<div class="t" style="top:522px;font-size:9.60px;color:#333;left:48.00px;transform:scaleX(0.9271);transform-origin:0 0;">1.1</div>
<div class="t" style="top:522px;font-size:9.60px;color:#333;left:66.60px;transform:scaleX(0.9384);transform-origin:0 0;">Limits by legislature</div>
<div class="r" style="left:183.80px;top:521.30px;width:41.00px;height:8.10px;background:#efefef;"></div>
<div class="r" style="left:183.80px;top:521.30px;width:29.52px;height:8.10px;background:#3f2b8f;"></div>
<div class="r" style="left:205.33px;top:521.30px;width:2.46px;height:8.10px;background:#2bb24c;"></div>
<div class="r" style="left:209.02px;top:521.30px;width:1.85px;height:8.10px;background:#f47b20;"></div>
<div class="t" style="top:522px;font-size:8.80px;color:#333;left:228.00px;transform:scaleX(0.8934);transform-origin:0 0;">0.71</div>
<div class="t" style="top:546px;font-size:9.60px;color:#333;left:48.00px;transform:scaleX(0.9271);transform-origin:0 0;">1.2</div>
<div class="t" style="top:546px;font-size:9.60px;color:#333;left:66.60px;transform:scaleX(0.9426);transform-origin:0 0;">Limits by judiciary</div>
<div class="r" style="left:183.80px;top:545.30px;width:41.00px;height:8.10px;background:#efefef;"></div>
<div class="r" style="left:183.80px;top:545.30px;width:27.80px;height:8.10px;background:#3f2b8f;"></div>
<div class="r" style="left:202.05px;top:545.30px;width:2.46px;height:8.10px;background:#2bb24c;"></div>
<div class="r" style="left:205.94px;top:545.30px;width:1.84px;height:8.10px;background:#f47b20;"></div>
<div class="t" style="top:546px;font-size:8.80px;color:#333;left:228.00px;transform:scaleX(0.8934);transform-origin:0 0;">0.67</div>
<div class="t" style="top:570px;font-size:9.60px;color:#333;left:48.00px;transform:scaleX(0.9271);transform-origin:0 0;">1.3</div>
<div class="t" style="top:570px;font-size:9.60px;color:#333;left:66.60px;transform:scaleX(0.9468);transform-origin:0 0;">Independent auditing</div>
<div class="r" style="left:183.80px;top:569.10px;width:41.00px;height:8.10px;background:#efefef;"></div>
<div class="r" style="left:183.80px;top:569.10px;width:24.03px;height:8.10px;background:#3f2b8f;"></div>
<div class="r" style="left:202.66px;top:569.10px;width:2.46px;height:8.10px;background:#2bb24c;"></div>
<div class="r" style="left:205.53px;top:569.10px;width:1.23px;height:8.10px;background:#f47b20;"></div>
<div class="t" style="top:570px;font-size:8.80px;color:#333;left:228.00px;transform:scaleX(0.8934);transform-origin:0 0;">0.59</div>
<div class="t" style="top:594px;font-size:9.60px;color:#333;left:48.00px;transform:scaleX(0.9271);transform-origin:0 0;">1.4</div>
<div class="t" style="top:594px;font-size:9.60px;color:#333;left:66.60px;transform:scaleX(0.9460);transform-origin:0 0;">Sanctions for official</div>
<div class="t" style="top:607px;font-size:9.60px;color:#333;left:66.60px;transform:scaleX(0.9289);transform-origin:0 0;">misconduct</div>
<div class="r" style="left:183.80px;top:593.10px;width:41.00px;height:8.10px;background:#efefef;"></div>
<div class="r" style="left:183.80px;top:593.10px;width:15.99px;height:8.10px;background:#3f2b8f;"></div>
<div class="r" style="left:199.59px;top:593.10px;width:1.23px;height:8.10px;background:#f47b20;"></div>
<div class="r" style="left:201.02px;top:593.10px;width:2.67px;height:8.10px;background:#2bb24c;"></div>
<div class="t" style="top:594px;font-size:8.80px;color:#333;left:228.00px;transform:scaleX(0.8934);transform-origin:0 0;">0.38</div>
<div class="t" style="top:628px;font-size:9.60px;color:#333;left:48.00px;transform:scaleX(0.9271);transform-origin:0 0;">1.5</div>
<div class="t" style="top:628px;font-size:9.60px;color:#333;left:66.60px;transform:scaleX(0.9353);transform-origin:0 0;">Non-governmental checks</div>
<div class="r" style="left:183.80px;top:627.30px;width:41.00px;height:8.10px;background:#efefef;"></div>
<div class="r" style="left:183.80px;top:627.30px;width:27.06px;height:8.10px;background:#3f2b8f;"></div>
<div class="r" style="left:204.09px;top:627.30px;width:1.85px;height:8.10px;background:#2bb24c;"></div>
<div class="r" style="left:206.15px;top:627.30px;width:1.84px;height:8.10px;background:#f47b20;"></div>
<div class="t" style="top:628px;font-size:8.80px;color:#333;left:228.00px;transform:scaleX(0.8934);transform-origin:0 0;">0.65</div>
<div class="t" style="top:652px;font-size:9.60px;color:#333;left:48.00px;transform:scaleX(0.9271);transform-origin:0 0;">1.6</div>
<div class="t" style="top:652px;font-size:9.60px;color:#333;left:66.60px;transform:scaleX(0.9628);transform-origin:0 0;">Lawful transition of power</div>
<div class="r" style="left:183.80px;top:651.60px;width:41.00px;height:8.10px;background:#efefef;"></div>
<div class="r" style="left:183.80px;top:651.60px;width:31.16px;height:8.10px;background:#3f2b8f;"></div>
<div class="r" style="left:204.92px;top:651.60px;width:2.05px;height:8.10px;background:#2bb24c;"></div>
<div class="r" style="left:206.97px;top:651.60px;width:1.85px;height:8.10px;background:#f47b20;"></div>
<div class="t" style="top:652px;font-size:8.80px;color:#333;left:228.00px;transform:scaleX(0.8934);transform-origin:0 0;">0.77</div>
<div class="t b" style="top:692px;font-size:10.20px;color:#6c9a35;font-weight:700;left:47.50px;transform:scaleX(0.9095);transform-origin:0 0;">Absence of Corruption</div>
<div class="r" style="left:46.50px;top:705.20px;width:178.50px;height:1.80px;background:#dddddd;"></div>
<svg class="a" style="left:228.00px;top:688.00px" width="17" height="18" viewBox="0 0 17 18"><g fill="#6c9a35"> <ellipse cx="8.2" cy="3.2" rx="2.5" ry="1.45"/> <path d="M6.9 4.4H9.9L10.3 6C11.6 7.2 14.7 10.4 14.7 13.9C14.7 16.2 13.4 17 11.6 17H5C3.2 17 1.9 16.2 1.9 13.9C1.9 10.4 5 7.2 6.3 6Z"/> <text x="8.3" y="15.3" font-size="9.4" font-weight="700" fill="#fff" text-anchor="middle" font-family="Liberation Serif, serif">$</text></g></svg>
<div class="t" style="top:718px;font-size:9.60px;color:#333;left:48.00px;transform:scaleX(0.9271);transform-origin:0 0;">2.1</div>
<div class="t" style="top:718px;font-size:9.60px;color:#333;left:66.60px;transform:scaleX(0.9390);transform-origin:0 0;">In the executive branch</div>
<div class="r" style="left:184.40px;top:716.70px;width:40.40px;height:8.10px;background:#efefef;"></div>
<div class="r" style="left:184.40px;top:716.70px;width:16.97px;height:8.10px;background:#3f2b8f;"></div>
<div class="r" style="left:201.17px;top:716.70px;width:2.42px;height:8.10px;background:#2bb24c;"></div>
<div class="t" style="top:717px;font-size:8.80px;color:#333;left:228.00px;transform:scaleX(0.8934);transform-origin:0 0;">0.45</div>
<div class="t" style="top:741px;font-size:9.60px;color:#333;left:48.00px;transform:scaleX(0.9271);transform-origin:0 0;">2.2</div>
<div class="t" style="top:741px;font-size:9.60px;color:#333;left:66.60px;transform:scaleX(0.9549);transform-origin:0 0;">In the judiciary</div>
<div class="r" style="left:184.40px;top:740.30px;width:40.40px;height:8.10px;background:#efefef;"></div>
<div class="r" style="left:184.40px;top:740.30px;width:20.89px;height:8.10px;background:#3f2b8f;"></div>
<div class="r" style="left:199.55px;top:740.30px;width:1.21px;height:8.10px;background:#f47b20;"></div>
<div class="r" style="left:201.17px;top:740.30px;width:2.42px;height:8.10px;background:#2bb24c;"></div>
<div class="t" style="top:741px;font-size:8.80px;color:#333;left:228.00px;transform:scaleX(0.8934);transform-origin:0 0;">0.51</div>
<div class="t" style="top:765px;font-size:9.60px;color:#333;left:48.00px;transform:scaleX(0.9271);transform-origin:0 0;">2.3</div>
<div class="t" style="top:765px;font-size:9.60px;color:#333;left:66.60px;transform:scaleX(0.9808);transform-origin:0 0;">In the police/military</div>
<div class="r" style="left:184.40px;top:764.30px;width:40.40px;height:8.10px;background:#efefef;"></div>
<div class="r" style="left:184.40px;top:764.30px;width:17.37px;height:8.10px;background:#3f2b8f;"></div>
<div class="r" style="left:201.77px;top:764.30px;width:1.01px;height:8.10px;background:#f47b20;"></div>
<div class="r" style="left:202.78px;top:764.30px;width:1.82px;height:8.10px;background:#2bb24c;"></div>
<div class="t" style="top:765px;font-size:8.80px;color:#333;left:228.00px;transform:scaleX(0.8934);transform-origin:0 0;">0.44</div>
<div class="t" style="top:790px;font-size:9.60px;color:#333;left:48.00px;transform:scaleX(0.9271);transform-origin:0 0;">2.4</div>
<div class="t" style="top:790px;font-size:9.60px;color:#333;left:66.60px;transform:scaleX(0.9512);transform-origin:0 0;">In the legislature</div>
<div class="r" style="left:184.40px;top:788.60px;width:40.40px;height:8.10px;background:#efefef;"></div>
<div class="r" style="left:184.40px;top:788.60px;width:17.37px;height:8.10px;background:#3f2b8f;"></div>
<div class="r" style="left:195.71px;top:788.60px;width:2.22px;height:8.10px;background:#2bb24c;"></div>
<div class="t" style="top:789px;font-size:8.80px;color:#333;left:228.00px;transform:scaleX(0.8934);transform-origin:0 0;">0.41</div>
<div class="t b" style="top:828px;font-size:10.20px;color:#259a78;font-weight:700;left:47.50px;transform:scaleX(0.9227);transform-origin:0 0;">Open Government</div>
<div class="r" style="left:46.50px;top:841.50px;width:178.50px;height:1.90px;background:#dddddd;"></div>
<svg class="a" style="left:228.00px;top:824.40px" width="17" height="18" viewBox="0 0 17 18"><g> <rect x="4.5" y="2.5" width="8.2" height="13.9" fill="#ddd6d8" stroke="#1f9a78" stroke-width="0.9"/> <path d="M6.6 1.6L12.9 2.4V16.6L6.6 17.4Z" fill="#1f9a78"/> <circle cx="8.5" cy="9.5" r="0.6" fill="#bfeadb"/></g></svg>
<div class="t" style="top:853px;font-size:9.60px;color:#333;left:48.00px;transform:scaleX(0.9271);transform-origin:0 0;">3.1</div>
<div class="t" style="top:853px;font-size:9.60px;color:#333;left:66.60px;transform:scaleX(0.9335);transform-origin:0 0;">Publicized laws &amp; gov't data</div>
<div class="r" style="left:183.80px;top:852.40px;width:41.00px;height:8.10px;background:#efefef;"></div>
<div class="r" style="left:183.80px;top:852.40px;width:22.55px;height:8.10px;background:#3f2b8f;"></div>
<div class="r" style="left:197.33px;top:852.40px;width:0.82px;height:8.10px;background:#f47b20;"></div>
<div class="r" style="left:198.15px;top:852.40px;width:2.05px;height:8.10px;background:#2bb24c;"></div>
<div class="t" style="top:853px;font-size:8.80px;color:#333;left:228.00px;transform:scaleX(0.8934);transform-origin:0 0;">0.55</div>
<div class="t" style="top:877px;font-size:9.60px;color:#333;left:48.00px;transform:scaleX(0.9271);transform-origin:0 0;">3.2</div>
<div class="t" style="top:877px;font-size:9.60px;color:#333;left:66.60px;transform:scaleX(0.9719);transform-origin:0 0;">Right to information</div>
<div class="r" style="left:183.80px;top:876.50px;width:41.00px;height:8.10px;background:#efefef;"></div>
<div class="r" style="left:183.80px;top:876.50px;width:26.45px;height:8.10px;background:#3f2b8f;"></div>
<div class="r" style="left:202.25px;top:876.50px;width:2.67px;height:8.10px;background:#2bb24c;"></div>
<div class="r" style="left:204.92px;top:876.50px;width:1.85px;height:8.10px;background:#f47b20;"></div>
<div class="t" style="top:877px;font-size:8.80px;color:#333;left:228.00px;transform:scaleX(0.8934);transform-origin:0 0;">0.62</div>
<div class="t" style="top:902px;font-size:9.60px;color:#333;left:48.00px;transform:scaleX(0.9271);transform-origin:0 0;">3.3</div>
<div class="t" style="top:902px;font-size:9.60px;color:#333;left:66.60px;transform:scaleX(0.9704);transform-origin:0 0;">Civic participation</div>
<div class="r" style="left:183.80px;top:900.70px;width:41.00px;height:8.10px;background:#efefef;"></div>
<div class="r" style="left:183.80px;top:900.70px;width:26.45px;height:8.10px;background:#3f2b8f;"></div>
<div class="r" style="left:204.09px;top:900.70px;width:2.67px;height:8.10px;background:#2bb24c;"></div>
<div class="r" style="left:206.76px;top:900.70px;width:1.84px;height:8.10px;background:#f47b20;"></div>
<div class="t" style="top:901px;font-size:8.80px;color:#333;left:228.00px;transform:scaleX(0.8934);transform-origin:0 0;">0.62</div>
<div class="t" style="top:925px;font-size:9.60px;color:#333;left:48.00px;transform:scaleX(0.9271);transform-origin:0 0;">3.4</div>
<div class="t" style="top:925px;font-size:9.60px;color:#333;left:66.60px;transform:scaleX(0.9292);transform-origin:0 0;">Complaint mechanisms</div>
<div class="r" style="left:183.80px;top:924.40px;width:41.00px;height:8.10px;background:#efefef;"></div>
<div class="r" style="left:183.80px;top:924.40px;width:30.34px;height:8.10px;background:#3f2b8f;"></div>
<div class="r" style="left:204.51px;top:924.40px;width:2.26px;height:8.10px;background:#2bb24c;"></div>
<div class="r" style="left:206.76px;top:924.40px;width:1.64px;height:8.10px;background:#f47b20;"></div>
<div class="t" style="top:925px;font-size:8.80px;color:#333;left:228.00px;transform:scaleX(0.8934);transform-origin:0 0;">0.71</div>
<div class="t b" style="top:497px;font-size:10.20px;color:#2a6dbd;font-weight:700;left:271.50px;transform:scaleX(0.9008);transform-origin:0 0;">Fundamental Rights</div>
<div class="r" style="left:270.50px;top:509.50px;width:178.50px;height:2.70px;background:#dddddd;"></div>
<svg class="a" style="left:452.00px;top:493.70px" width="17" height="18" viewBox="0 0 17 18"><g fill="#2a6dbd"> <circle cx="5.4" cy="2.5" r="1.15"/> <path d="M4.2 3.9H6.6C7.6 3.9 8.1 4.6 8.1 5.5V9.6L7.4 9.7L7.2 6.6L6.6 17.3H5.6L5.4 11.6L5.2 17.3H4.2L3.6 6.6L3.4 9.7L2.7 9.6V5.5C2.7 4.6 3.2 3.9 4.2 3.9Z"/> <circle cx="11.5" cy="2.5" r="1.15"/> <path d="M10.4 3.9H12.6C13.4 3.9 13.8 4.4 14 5.1L14.8 9.4L14.1 9.6L13.3 6.8L14.3 12.6H12.9L12.5 17.3H11.7L11.5 13L11.3 17.3H10.5L10.1 12.6H8.7L9.7 6.8L8.9 9.6L8.2 9.4L9 5.1C9.2 4.4 9.6 3.9 10.4 3.9Z"/></g></svg>
<div class="t" style="top:522px;font-size:9.60px;color:#333;left:272.00px;transform:scaleX(0.9271);transform-origin:0 0;">4.1</div>
<div class="t" style="top:522px;font-size:9.60px;color:#333;left:290.60px;transform:scaleX(0.9644);transform-origin:0 0;">No discrimination</div>
<div class="r" style="left:407.80px;top:521.30px;width:41.00px;height:8.10px;background:#efefef;"></div>
<div class="r" style="left:407.80px;top:521.30px;width:17.63px;height:8.10px;background:#3f2b8f;"></div>
<div class="r" style="left:425.31px;top:521.30px;width:2.58px;height:8.10px;background:#f47b20;"></div>
<div class="r" style="left:428.10px;top:521.30px;width:2.67px;height:8.10px;background:#2bb24c;"></div>
<div class="t" style="top:522px;font-size:8.80px;color:#333;left:452.00px;transform:scaleX(0.8934);transform-origin:0 0;">0.42</div>
<div class="t" style="top:546px;font-size:9.60px;color:#333;left:272.00px;transform:scaleX(0.9271);transform-origin:0 0;">4.2</div>
<div class="t" style="top:546px;font-size:9.60px;color:#333;left:290.60px;transform:scaleX(0.9533);transform-origin:0 0;">Right to life &amp; security</div>
<div class="r" style="left:407.80px;top:545.30px;width:41.00px;height:8.10px;background:#efefef;"></div>
<div class="r" style="left:407.80px;top:545.30px;width:18.04px;height:8.10px;background:#3f2b8f;"></div>
<div class="r" style="left:422.56px;top:545.30px;width:1.44px;height:8.10px;background:#f47b20;"></div>
<div class="r" style="left:426.25px;top:545.30px;width:2.67px;height:8.10px;background:#2bb24c;"></div>
<div class="t" style="top:546px;font-size:8.80px;color:#333;left:452.00px;transform:scaleX(0.8934);transform-origin:0 0;">0.45</div>
<div class="t" style="top:570px;font-size:9.60px;color:#333;left:272.00px;transform:scaleX(0.9271);transform-origin:0 0;">4.3</div>
<div class="t" style="top:570px;font-size:9.60px;color:#333;left:290.60px;transform:scaleX(0.9175);transform-origin:0 0;">Due process of law</div>
<div class="r" style="left:407.80px;top:569.30px;width:41.00px;height:8.10px;background:#efefef;"></div>
<div class="r" style="left:407.80px;top:569.30px;width:14.76px;height:8.10px;background:#3f2b8f;"></div>
<div class="r" style="left:422.15px;top:569.30px;width:1.23px;height:8.10px;background:#f47b20;"></div>
<div class="r" style="left:423.59px;top:569.30px;width:2.25px;height:8.10px;background:#2bb24c;"></div>
<div class="t" style="top:570px;font-size:8.80px;color:#333;left:452.00px;transform:scaleX(0.8934);transform-origin:0 0;">0.42</div>
<div class="t" style="top:594px;font-size:9.60px;color:#333;left:272.00px;transform:scaleX(0.9271);transform-origin:0 0;">4.4</div>
<div class="t" style="top:594px;font-size:9.60px;color:#333;left:290.60px;transform:scaleX(0.9280);transform-origin:0 0;">Freedom of expression</div>
<div class="r" style="left:407.80px;top:593.20px;width:41.00px;height:8.10px;background:#efefef;"></div>
<div class="r" style="left:407.80px;top:593.20px;width:27.22px;height:8.10px;background:#3f2b8f;"></div>
<div class="r" style="left:429.12px;top:593.20px;width:1.84px;height:8.10px;background:#2bb24c;"></div>
<div class="r" style="left:431.17px;top:593.20px;width:1.85px;height:8.10px;background:#f47b20;"></div>
<div class="t" style="top:594px;font-size:8.80px;color:#333;left:452.00px;transform:scaleX(0.8934);transform-origin:0 0;">0.65</div>
<div class="t" style="top:618px;font-size:9.60px;color:#333;left:272.00px;transform:scaleX(0.9271);transform-origin:0 0;">4.5</div>
<div class="t" style="top:618px;font-size:9.60px;color:#333;left:290.60px;transform:scaleX(0.9444);transform-origin:0 0;">Freedom of religion</div>
<div class="r" style="left:407.80px;top:617.50px;width:41.00px;height:8.10px;background:#efefef;"></div>
<div class="r" style="left:407.80px;top:617.50px;width:22.96px;height:8.10px;background:#3f2b8f;"></div>
<div class="r" style="left:430.76px;top:617.50px;width:2.66px;height:8.10px;background:#2bb24c;"></div>
<div class="t" style="top:618px;font-size:8.80px;color:#333;left:452.00px;transform:scaleX(0.8934);transform-origin:0 0;">0.58</div>
<div class="t" style="top:642px;font-size:9.60px;color:#333;left:272.00px;transform:scaleX(0.9271);transform-origin:0 0;">4.6</div>
<div class="t" style="top:642px;font-size:9.60px;color:#333;left:290.60px;transform:scaleX(0.9447);transform-origin:0 0;">Right to privacy</div>
<div class="r" style="left:407.80px;top:641.60px;width:41.00px;height:8.10px;background:#efefef;"></div>
<div class="r" style="left:407.80px;top:641.60px;width:20.09px;height:8.10px;background:#3f2b8f;"></div>
<div class="r" style="left:420.72px;top:641.60px;width:1.43px;height:8.10px;background:#f47b20;"></div>
<div class="r" style="left:422.15px;top:641.60px;width:1.85px;height:8.10px;background:#2bb24c;"></div>
<div class="t" style="top:642px;font-size:8.80px;color:#333;left:452.00px;transform:scaleX(0.8934);transform-origin:0 0;">0.48</div>
<div class="t" style="top:666px;font-size:9.60px;color:#333;left:272.00px;transform:scaleX(0.9271);transform-origin:0 0;">4.7</div>
<div class="t" style="top:666px;font-size:9.60px;color:#333;left:290.60px;transform:scaleX(0.9311);transform-origin:0 0;">Freedom of association</div>
<div class="r" style="left:407.80px;top:665.30px;width:41.00px;height:8.10px;background:#efefef;"></div>
<div class="r" style="left:407.80px;top:665.30px;width:22.96px;height:8.10px;background:#3f2b8f;"></div>
<div class="r" style="left:430.76px;top:665.30px;width:1.84px;height:8.10px;background:#2bb24c;"></div>
<div class="r" style="left:432.61px;top:665.30px;width:1.44px;height:8.10px;background:#f47b20;"></div>
<div class="t" style="top:666px;font-size:8.80px;color:#333;left:452.00px;transform:scaleX(0.8934);transform-origin:0 0;">0.64</div>
<div class="t" style="top:690px;font-size:9.60px;color:#333;left:272.00px;transform:scaleX(0.9271);transform-origin:0 0;">4.8</div>
<div class="t" style="top:690px;font-size:9.60px;color:#333;left:290.60px;transform:scaleX(0.9370);transform-origin:0 0;">Labor rights</div>
<div class="r" style="left:407.80px;top:689.60px;width:41.00px;height:8.10px;background:#efefef;"></div>
<div class="r" style="left:407.80px;top:689.60px;width:18.25px;height:8.10px;background:#3f2b8f;"></div>
<div class="r" style="left:426.05px;top:689.60px;width:2.05px;height:8.10px;background:#f47b20;"></div>
<div class="r" style="left:428.10px;top:689.60px;width:2.67px;height:8.10px;background:#2bb24c;"></div>
<div class="t" style="top:690px;font-size:8.80px;color:#333;left:452.00px;transform:scaleX(0.8934);transform-origin:0 0;">0.48</div>
<div class="t b" style="top:729px;font-size:10.20px;color:#3b2a7e;font-weight:700;left:271.50px;transform:scaleX(0.9159);transform-origin:0 0;">Order and Security</div>
<div class="r" style="left:270.50px;top:742.90px;width:178.50px;height:1.90px;background:#dddddd;"></div>
<svg class="a" style="left:452.00px;top:725.70px" width="17" height="18" viewBox="0 0 17 18"><g> <path d="M5 9.5V6.7C5 4.3 6.4 2.9 8.4 2.9C10.4 2.9 11.8 4.3 11.8 6.7V7.4" fill="none" stroke="#3b2a80" stroke-width="2.1"/> <rect x="2.8" y="9" width="11.3" height="7.9" rx="1.5" fill="#3b2a80"/> <circle cx="8.4" cy="11.9" r="1.3" fill="#fff"/> <path d="M7.6 12.2H9.2L8.9 15.2H7.9Z" fill="#fff"/></g></svg>
<div class="t" style="top:754px;font-size:9.60px;color:#333;left:272.00px;transform:scaleX(0.9271);transform-origin:0 0;">5.1</div>
<div class="t" style="top:754px;font-size:9.60px;color:#333;left:290.60px;transform:scaleX(0.9264);transform-origin:0 0;">Absence of crime</div>
<div class="r" style="left:406.00px;top:753.30px;width:42.60px;height:8.10px;background:#efefef;"></div>
<div class="r" style="left:406.00px;top:753.30px;width:32.80px;height:8.10px;background:#3f2b8f;"></div>
<div class="r" style="left:436.03px;top:753.30px;width:1.70px;height:8.10px;background:#2bb24c;"></div>
<div class="t" style="top:754px;font-size:8.80px;color:#333;left:452.00px;transform:scaleX(0.8934);transform-origin:0 0;">0.75</div>
<div class="t" style="top:779px;font-size:9.60px;color:#333;left:272.00px;transform:scaleX(0.9271);transform-origin:0 0;">5.2</div>
<div class="t" style="top:779px;font-size:9.60px;color:#333;left:290.60px;transform:scaleX(0.9482);transform-origin:0 0;">Absence of civil conflict</div>
<div class="r" style="left:406.00px;top:777.70px;width:42.60px;height:8.10px;background:#efefef;"></div>
<div class="r" style="left:406.00px;top:777.70px;width:30.89px;height:8.10px;background:#3f2b8f;"></div>
<div class="r" style="left:430.92px;top:777.70px;width:2.34px;height:8.10px;background:#f47b20;"></div>
<div class="r" style="left:441.57px;top:777.70px;width:1.28px;height:8.10px;background:#2bb24c;"></div>
<div class="t" style="top:778px;font-size:8.80px;color:#333;left:452.00px;transform:scaleX(0.8934);transform-origin:0 0;">0.71</div>
<div class="t" style="top:803px;font-size:9.60px;color:#333;left:272.00px;transform:scaleX(0.9271);transform-origin:0 0;">5.3</div>
<div class="t" style="top:803px;font-size:9.60px;color:#333;left:290.60px;transform:scaleX(0.9353);transform-origin:0 0;">Absence of violent redress</div>
<div class="r" style="left:406.00px;top:801.90px;width:42.60px;height:8.10px;background:#efefef;"></div>
<div class="r" style="left:406.00px;top:801.90px;width:13.21px;height:8.10px;background:#3f2b8f;"></div>
<div class="r" style="left:419.21px;top:801.90px;width:2.13px;height:8.10px;background:#f47b20;"></div>
<div class="r" style="left:423.68px;top:801.90px;width:1.49px;height:8.10px;background:#2bb24c;"></div>
<div class="t" style="top:802px;font-size:8.80px;color:#333;left:452.00px;transform:scaleX(0.8934);transform-origin:0 0;">0.31</div>
<div class="t b" style="top:841px;font-size:10.20px;color:#9a2fa2;font-weight:700;left:271.50px;transform:scaleX(0.9194);transform-origin:0 0;">Regulatory Enforcement</div>
<div class="r" style="left:270.50px;top:855.20px;width:178.50px;height:1.80px;background:#dddddd;"></div>
<svg class="a" style="left:452.00px;top:838.10px" width="17" height="18" viewBox="0 0 17 18"><g> <rect x="3.3" y="3.1" width="10.4" height="12.6" rx="0.5" fill="#f6edf7" stroke="#9a2fa2" stroke-width="1.1"/> <path d="M5.6 3.6V2.7L7.4 2.5L8.5 1.2L9.6 2.5L11.4 2.7V3.6Z" fill="#9a2fa2"/> <rect x="3.4" y="2.9" width="10.2" height="1.3" fill="#9a2fa2"/> <rect x="4.7" y="5" width="1.7" height="5.6" fill="#9a2fa2"/> <rect x="6.6" y="5.2" width="5.8" height="1" fill="#9a2fa2"/> <rect x="6.6" y="7.2" width="5.8" height="0.9" fill="#b971bf"/> <rect x="6.6" y="9.2" width="5.8" height="0.9" fill="#b971bf"/> <rect x="4.7" y="11.3" width="7.7" height="2.4" fill="#d9d3da"/></g></svg>
<div class="t" style="top:867px;font-size:9.60px;color:#333;left:272.00px;transform:scaleX(0.9271);transform-origin:0 0;">6.1</div>
<div class="t" style="top:867px;font-size:9.60px;color:#333;left:290.60px;transform:scaleX(0.9696);transform-origin:0 0;">Effective regulatory</div>
<div class="t" style="top:880px;font-size:9.60px;color:#333;left:290.60px;transform:scaleX(0.9633);transform-origin:0 0;">enforcement</div>
<div class="r" style="left:408.20px;top:865.80px;width:40.40px;height:8.10px;background:#efefef;"></div>
<div class="r" style="left:408.20px;top:865.80px;width:16.97px;height:8.10px;background:#3f2b8f;"></div>
<div class="r" style="left:425.17px;top:865.80px;width:1.62px;height:8.10px;background:#f47b20;"></div>
<div class="r" style="left:426.78px;top:865.80px;width:2.22px;height:8.10px;background:#2bb24c;"></div>
<div class="t" style="top:866px;font-size:8.80px;color:#333;left:452.00px;transform:scaleX(0.8934);transform-origin:0 0;">0.46</div>
<div class="t" style="top:902px;font-size:9.60px;color:#333;left:272.00px;transform:scaleX(0.9271);transform-origin:0 0;">6.2</div>
<div class="t" style="top:902px;font-size:9.60px;color:#333;left:290.60px;transform:scaleX(0.9552);transform-origin:0 0;">No improper influence</div>
<div class="r" style="left:408.20px;top:900.80px;width:40.40px;height:8.10px;background:#efefef;"></div>
<div class="r" style="left:408.20px;top:900.80px;width:18.02px;height:8.10px;background:#3f2b8f;"></div>
<div class="r" style="left:426.22px;top:900.80px;width:1.37px;height:8.10px;background:#f47b20;"></div>
<div class="r" style="left:427.59px;top:900.80px;width:2.22px;height:8.10px;background:#2bb24c;"></div>
<div class="t" style="top:901px;font-size:8.80px;color:#333;left:452.00px;transform:scaleX(0.8934);transform-origin:0 0;">0.45</div>
<div class="t" style="top:926px;font-size:9.60px;color:#333;left:272.00px;transform:scaleX(0.9271);transform-origin:0 0;">6.3</div>
<div class="t" style="top:926px;font-size:9.60px;color:#333;left:290.60px;transform:scaleX(0.9268);transform-origin:0 0;">No unreasonable delay</div>
<div class="r" style="left:408.20px;top:924.60px;width:40.40px;height:8.10px;background:#efefef;"></div>
<div class="r" style="left:408.20px;top:924.60px;width:15.35px;height:8.10px;background:#3f2b8f;"></div>
<div class="r" style="left:425.37px;top:924.60px;width:1.21px;height:8.10px;background:#f47b20;"></div>
<div class="r" style="left:426.58px;top:924.60px;width:1.41px;height:8.10px;background:#2bb24c;"></div>
<div class="t" style="top:925px;font-size:8.80px;color:#333;left:452.00px;transform:scaleX(0.8934);transform-origin:0 0;">0.36</div>
<div class="t" style="top:950px;font-size:9.60px;color:#333;left:272.00px;transform:scaleX(0.9271);transform-origin:0 0;">6.4</div>
<div class="t" style="top:950px;font-size:9.60px;color:#333;left:290.60px;transform:scaleX(0.9131);transform-origin:0 0;">Respect for due process</div>
<div class="r" style="left:408.20px;top:948.60px;width:40.40px;height:8.10px;background:#efefef;"></div>
<div class="r" style="left:408.20px;top:948.60px;width:23.19px;height:8.10px;background:#3f2b8f;"></div>
<div class="r" style="left:421.33px;top:948.60px;width:1.41px;height:8.10px;background:#f47b20;"></div>
<div class="r" style="left:422.95px;top:948.60px;width:2.22px;height:8.10px;background:#2bb24c;"></div>
<div class="t" style="top:949px;font-size:8.80px;color:#333;left:452.00px;transform:scaleX(0.8934);transform-origin:0 0;">0.56</div>
<div class="t" style="top:974px;font-size:9.60px;color:#333;left:272.00px;transform:scaleX(0.9271);transform-origin:0 0;">6.5</div>
<div class="t" style="top:974px;font-size:9.60px;color:#333;left:290.60px;transform:scaleX(0.9829);transform-origin:0 0;">No expropriation w/out</div>
<div class="t" style="top:987px;font-size:9.60px;color:#333;left:290.60px;transform:scaleX(0.9300);transform-origin:0 0;">adequate compensation</div>
<div class="r" style="left:408.20px;top:972.70px;width:40.40px;height:8.10px;background:#efefef;"></div>
<div class="r" style="left:408.20px;top:972.70px;width:25.05px;height:8.10px;background:#3f2b8f;"></div>
<div class="r" style="left:427.79px;top:972.70px;width:1.82px;height:8.10px;background:#2bb24c;"></div>
<div class="r" style="left:430.02px;top:972.70px;width:1.62px;height:8.10px;background:#f47b20;"></div>
<div class="t" style="top:973px;font-size:8.80px;color:#333;left:452.00px;transform:scaleX(0.8934);transform-origin:0 0;">0.60</div>
<div class="t b" style="top:497px;font-size:10.20px;color:#8c2a2a;font-weight:700;left:495.50px;transform:scaleX(0.8871);transform-origin:0 0;">Civil Justice</div>
<div class="r" style="left:494.50px;top:509.40px;width:178.50px;height:2.50px;background:#dddddd;"></div>
<svg class="a" style="left:676.00px;top:493.50px" width="17" height="18" viewBox="0 0 17 18"><g stroke="#8c2a2a" fill="none"> <path d="M8.3 2.2V16.3" stroke-width="1.1"/> <path d="M6.5 16.5H10.1" stroke-width="0.9" stroke="#a85a5a"/> <path d="M2.6 3.3H14" stroke-width="0.9"/> <circle cx="8.3" cy="3.1" r="0.85" fill="#8c2a2a" stroke="none"/> <path d="M3.3 3.6C2.3 5.5 1.7 7.8 1.6 9.4M3.5 3.6C4.3 5.5 4.9 7.8 5 9.4M13.1 3.6C12.3 5.5 11.7 7.8 11.6 9.4M13.3 3.6C14.3 5.5 14.9 7.8 15 9.4" stroke-width="0.45" stroke="#a04a4a"/> <path d="M1 9.3H5.6C5.4 10.6 4.4 12 3.3 12C2.2 12 1.2 10.6 1 9.3Z" fill="#8c2a2a" stroke="none"/> <path d="M11 9.3H15.6C15.4 10.6 14.4 12 13.3 12C12.2 12 11.2 10.6 11 9.3Z" fill="#8c2a2a" stroke="none"/></g></svg>
<div class="t" style="top:522px;font-size:9.60px;color:#333;left:496.00px;transform:scaleX(0.9271);transform-origin:0 0;">7.1</div>
<div class="t" style="top:522px;font-size:9.60px;color:#333;left:514.60px;transform:scaleX(0.9776);transform-origin:0 0;">Accessibility &amp; affordability</div>
<div class="r" style="left:631.80px;top:521.20px;width:41.00px;height:8.10px;background:#efefef;"></div>
<div class="r" style="left:631.80px;top:521.20px;width:14.68px;height:8.10px;background:#3f2b8f;"></div>
<div class="r" style="left:648.20px;top:521.20px;width:1.64px;height:8.10px;background:#f47b20;"></div>
<div class="r" style="left:649.84px;top:521.20px;width:2.05px;height:8.10px;background:#2bb24c;"></div>
<div class="t" style="top:522px;font-size:8.80px;color:#333;left:676.00px;transform:scaleX(0.8934);transform-origin:0 0;">0.35</div>
<div class="t" style="top:546px;font-size:9.60px;color:#333;left:496.00px;transform:scaleX(0.9271);transform-origin:0 0;">7.2</div>
<div class="t" style="top:546px;font-size:9.60px;color:#333;left:514.60px;transform:scaleX(0.9644);transform-origin:0 0;">No discrimination</div>
<div class="r" style="left:631.80px;top:545.30px;width:41.00px;height:8.10px;background:#efefef;"></div>
<div class="r" style="left:631.80px;top:545.30px;width:15.05px;height:8.10px;background:#3f2b8f;"></div>
<div class="r" style="left:646.85px;top:545.30px;width:1.97px;height:8.10px;background:#f47b20;"></div>
<div class="r" style="left:650.25px;top:545.30px;width:2.46px;height:8.10px;background:#2bb24c;"></div>
<div class="t" style="top:546px;font-size:8.80px;color:#333;left:676.00px;transform:scaleX(0.8934);transform-origin:0 0;">0.35</div>
<div class="t" style="top:570px;font-size:9.60px;color:#333;left:496.00px;transform:scaleX(0.9271);transform-origin:0 0;">7.3</div>
<div class="t" style="top:570px;font-size:9.60px;color:#333;left:514.60px;transform:scaleX(0.9822);transform-origin:0 0;">No corruption</div>
<div class="r" style="left:631.80px;top:569.10px;width:41.00px;height:8.10px;background:#efefef;"></div>
<div class="r" style="left:631.80px;top:569.10px;width:20.91px;height:8.10px;background:#3f2b8f;"></div>
<div class="r" style="left:646.56px;top:569.10px;width:1.23px;height:8.10px;background:#f47b20;"></div>
<div class="r" style="left:648.61px;top:569.10px;width:1.64px;height:8.10px;background:#2bb24c;"></div>
<div class="t" style="top:570px;font-size:8.80px;color:#333;left:676.00px;transform:scaleX(0.8934);transform-origin:0 0;">0.49</div>
<div class="t" style="top:594px;font-size:9.60px;color:#333;left:496.00px;transform:scaleX(0.9271);transform-origin:0 0;">7.4</div>
<div class="t" style="top:594px;font-size:9.60px;color:#333;left:514.60px;transform:scaleX(0.9549);transform-origin:0 0;">No improper gov't influence</div>
<div class="r" style="left:631.80px;top:593.10px;width:41.00px;height:8.10px;background:#efefef;"></div>
<div class="r" style="left:631.80px;top:593.10px;width:26.49px;height:8.10px;background:#3f2b8f;"></div>
<div class="r" style="left:649.43px;top:593.10px;width:1.31px;height:8.10px;background:#2bb24c;"></div>
<div class="r" style="left:650.74px;top:593.10px;width:1.76px;height:8.10px;background:#f47b20;"></div>
<div class="t" style="top:594px;font-size:8.80px;color:#333;left:676.00px;transform:scaleX(0.8934);transform-origin:0 0;">0.63</div>
<div class="t" style="top:618px;font-size:9.60px;color:#333;left:496.00px;transform:scaleX(0.9271);transform-origin:0 0;">7.5</div>
<div class="t" style="top:618px;font-size:9.60px;color:#333;left:514.60px;transform:scaleX(0.9268);transform-origin:0 0;">No unreasonable delay</div>
<div class="r" style="left:631.80px;top:617.50px;width:41.00px;height:8.10px;background:#efefef;"></div>
<div class="r" style="left:631.80px;top:617.50px;width:7.69px;height:8.10px;background:#3f2b8f;"></div>
<div class="r" style="left:645.53px;top:617.50px;width:1.64px;height:8.10px;background:#f47b20;"></div>
<div class="r" style="left:647.58px;top:617.50px;width:2.67px;height:8.10px;background:#2bb24c;"></div>
<div class="t" style="top:618px;font-size:8.80px;color:#333;left:676.00px;transform:scaleX(0.8934);transform-origin:0 0;">0.16</div>
<div class="t" style="top:642px;font-size:9.60px;color:#333;left:496.00px;transform:scaleX(0.9271);transform-origin:0 0;">7.6</div>
<div class="t" style="top:642px;font-size:9.60px;color:#333;left:514.60px;transform:scaleX(0.9637);transform-origin:0 0;">Effective enforcement</div>
<div class="r" style="left:631.80px;top:641.40px;width:41.00px;height:8.10px;background:#efefef;"></div>
<div class="r" style="left:631.80px;top:641.40px;width:14.68px;height:8.10px;background:#3f2b8f;"></div>
<div class="r" style="left:647.79px;top:641.40px;width:1.23px;height:8.10px;background:#f47b20;"></div>
<div class="r" style="left:649.02px;top:641.40px;width:2.67px;height:8.10px;background:#2bb24c;"></div>
<div class="t" style="top:642px;font-size:8.80px;color:#333;left:676.00px;transform:scaleX(0.8934);transform-origin:0 0;">0.34</div>
<div class="t" style="top:666px;font-size:9.60px;color:#333;left:496.00px;transform:scaleX(0.9271);transform-origin:0 0;">7.7</div>
<div class="t" style="top:666px;font-size:9.60px;color:#333;left:514.60px;transform:scaleX(0.9620);transform-origin:0 0;">Impartial &amp; effective ADRs</div>
<div class="r" style="left:631.80px;top:665.10px;width:41.00px;height:8.10px;background:#efefef;"></div>
<div class="r" style="left:631.80px;top:665.10px;width:21.85px;height:8.10px;background:#3f2b8f;"></div>
<div class="r" style="left:653.65px;top:665.10px;width:1.72px;height:8.10px;background:#f47b20;"></div>
<div class="r" style="left:655.70px;top:665.10px;width:2.58px;height:8.10px;background:#2bb24c;"></div>
<div class="t" style="top:666px;font-size:8.80px;color:#333;left:676.00px;transform:scaleX(0.8934);transform-origin:0 0;">0.61</div>
<div class="t b" style="top:706px;font-size:10.20px;color:#f07b2a;font-weight:700;left:495.50px;transform:scaleX(0.8948);transform-origin:0 0;">Criminal Justice</div>
<div class="r" style="left:494.50px;top:718.00px;width:178.50px;height:2.70px;background:#dddddd;"></div>
<svg class="a" style="left:676.00px;top:702.40px" width="17" height="18" viewBox="0 0 17 18"><g fill="none"> <path d="M7.5 8.6L9.4 14.2M9.1 8.6L7.2 14.2" stroke="#c9c9c9" stroke-width="0.9"/> <path d="M6.3 14C3.6 15.2 1.2 13 1.4 10.3C1.6 7.8 4 6.9 6 6.4C7.2 6.1 8 5.4 8.3 4.3" stroke="#f07b2a" stroke-width="1.2"/> <path d="M10.3 14C13 15.2 15.4 13 15.2 10.3C15 7.8 12.6 6.9 10.6 6.4C9.4 6.1 8.6 5.4 8.3 4.3" stroke="#f07b2a" stroke-width="1.2"/> <path d="M7.3 5.2L6.6 7.4M9.3 5.2L10 7.4" stroke="#f39a5c" stroke-width="0.9"/></g></svg>
<div class="t" style="top:731px;font-size:9.60px;color:#333;left:496.00px;transform:scaleX(0.9271);transform-origin:0 0;">8.1</div>
<div class="t" style="top:731px;font-size:9.60px;color:#333;left:514.60px;transform:scaleX(0.9541);transform-origin:0 0;">Effective investigations</div>
<div class="r" style="left:631.80px;top:730.00px;width:41.00px;height:8.10px;background:#efefef;"></div>
<div class="r" style="left:631.80px;top:730.00px;width:15.09px;height:8.10px;background:#3f2b8f;"></div>
<div class="r" style="left:646.89px;top:730.00px;width:0.90px;height:8.10px;background:#f47b20;"></div>
<div class="r" style="left:647.79px;top:730.00px;width:1.84px;height:8.10px;background:#2bb24c;"></div>
<div class="t" style="top:731px;font-size:8.80px;color:#333;left:676.00px;transform:scaleX(0.8934);transform-origin:0 0;">0.36</div>
<div class="t" style="top:754px;font-size:9.60px;color:#333;left:496.00px;transform:scaleX(0.9271);transform-origin:0 0;">8.2</div>
<div class="t" style="top:754px;font-size:9.60px;color:#333;left:514.60px;transform:scaleX(0.9612);transform-origin:0 0;">Timely &amp; effective</div>
<div class="t" style="top:768px;font-size:9.60px;color:#333;left:514.60px;transform:scaleX(0.9622);transform-origin:0 0;">adjudication</div>
<div class="r" style="left:631.80px;top:753.60px;width:41.00px;height:8.10px;background:#efefef;"></div>
<div class="r" style="left:631.80px;top:753.60px;width:17.22px;height:8.10px;background:#3f2b8f;"></div>
<div class="r" style="left:649.02px;top:753.60px;width:1.11px;height:8.10px;background:#f47b20;"></div>
<div class="r" style="left:650.13px;top:753.60px;width:1.97px;height:8.10px;background:#2bb24c;"></div>
<div class="t" style="top:754px;font-size:8.80px;color:#333;left:676.00px;transform:scaleX(0.8934);transform-origin:0 0;">0.43</div>
<div class="t" style="top:789px;font-size:9.60px;color:#333;left:496.00px;transform:scaleX(0.9271);transform-origin:0 0;">8.3</div>
<div class="t" style="top:789px;font-size:9.60px;color:#333;left:514.60px;transform:scaleX(0.9727);transform-origin:0 0;">Effective correctional</div>
<div class="t" style="top:802px;font-size:9.60px;color:#333;left:514.60px;transform:scaleX(0.9210);transform-origin:0 0;">system</div>
<div class="r" style="left:631.80px;top:788.30px;width:41.00px;height:8.10px;background:#efefef;"></div>
<div class="r" style="left:631.80px;top:788.30px;width:12.96px;height:8.10px;background:#3f2b8f;"></div>
<div class="r" style="left:644.76px;top:788.30px;width:1.93px;height:8.10px;background:#2bb24c;"></div>
<div class="r" style="left:646.68px;top:788.30px;width:1.93px;height:8.10px;background:#f47b20;"></div>
<div class="t" style="top:789px;font-size:8.80px;color:#333;left:676.00px;transform:scaleX(0.8934);transform-origin:0 0;">0.37</div>
<div class="t" style="top:824px;font-size:9.60px;color:#333;left:496.00px;transform:scaleX(0.9271);transform-origin:0 0;">8.4</div>
<div class="t" style="top:824px;font-size:9.60px;color:#333;left:514.60px;transform:scaleX(0.9644);transform-origin:0 0;">No discrimination</div>
<div class="r" style="left:631.80px;top:822.60px;width:41.00px;height:8.10px;background:#efefef;"></div>
<div class="r" style="left:631.80px;top:822.60px;width:11.89px;height:8.10px;background:#3f2b8f;"></div>
<div class="r" style="left:645.62px;top:822.60px;width:1.52px;height:8.10px;background:#f47b20;"></div>
<div class="r" style="left:647.38px;top:822.60px;width:2.05px;height:8.10px;background:#2bb24c;"></div>
<div class="t" style="top:823px;font-size:8.80px;color:#333;left:676.00px;transform:scaleX(0.8934);transform-origin:0 0;">0.28</div>
<div class="t" style="top:848px;font-size:9.60px;color:#333;left:496.00px;transform:scaleX(0.9271);transform-origin:0 0;">8.5</div>
<div class="t" style="top:848px;font-size:9.60px;color:#333;left:514.60px;transform:scaleX(0.9822);transform-origin:0 0;">No corruption</div>
<div class="r" style="left:631.80px;top:846.60px;width:41.00px;height:8.10px;background:#efefef;"></div>
<div class="r" style="left:631.80px;top:846.60px;width:20.38px;height:8.10px;background:#3f2b8f;"></div>
<div class="r" style="left:649.02px;top:846.60px;width:1.56px;height:8.10px;background:#2bb24c;"></div>
<div class="r" style="left:650.78px;top:846.60px;width:0.70px;height:8.10px;background:#f47b20;"></div>
<div class="t" style="top:847px;font-size:8.80px;color:#333;left:676.00px;transform:scaleX(0.8934);transform-origin:0 0;">0.50</div>
<div class="t" style="top:872px;font-size:9.60px;color:#333;left:496.00px;transform:scaleX(0.9271);transform-origin:0 0;">8.6</div>
<div class="t" style="top:872px;font-size:9.60px;color:#333;left:514.60px;transform:scaleX(0.9549);transform-origin:0 0;">No improper gov't influence</div>
<div class="r" style="left:631.80px;top:871.10px;width:41.00px;height:8.10px;background:#efefef;"></div>
<div class="r" style="left:631.80px;top:871.10px;width:25.67px;height:8.10px;background:#3f2b8f;"></div>
<div class="r" style="left:645.82px;top:871.10px;width:2.17px;height:8.10px;background:#2bb24c;"></div>
<div class="r" style="left:649.02px;top:871.10px;width:2.87px;height:8.10px;background:#f47b20;"></div>
<div class="t" style="top:872px;font-size:8.80px;color:#333;left:676.00px;transform:scaleX(0.8934);transform-origin:0 0;">0.61</div>
<div class="t" style="top:896px;font-size:9.60px;color:#333;left:496.00px;transform:scaleX(0.9271);transform-origin:0 0;">8.7</div>
<div class="t" style="top:896px;font-size:9.60px;color:#333;left:514.60px;transform:scaleX(0.9175);transform-origin:0 0;">Due process of law</div>
<div class="r" style="left:631.80px;top:894.80px;width:41.00px;height:8.10px;background:#efefef;"></div>
<div class="r" style="left:631.80px;top:894.80px;width:14.88px;height:8.10px;background:#3f2b8f;"></div>
<div class="r" style="left:646.68px;top:894.80px;width:0.90px;height:8.10px;background:#f47b20;"></div>
<div class="r" style="left:647.58px;top:894.80px;width:2.54px;height:8.10px;background:#2bb24c;"></div>
<div class="t" style="top:895px;font-size:8.80px;color:#333;left:676.00px;transform:scaleX(0.8934);transform-origin:0 0;">0.42</div>
<div class="t" style="top:999px;font-size:8.80px;color:#333;left:544.60px;transform:scaleX(0.9261);transform-origin:0 0;">2017–2018 WJP Rule of Law Index</div>
<div class="t" style="top:999px;font-size:8.80px;color:#5b4aa6;left:683.20px;">I</div>
<div class="t" style="top:999px;font-size:8.80px;color:#4a379a;-webkit-text-stroke:0.35px;left:699.90px;transform:scaleX(0.9809);transform-origin:0 0;">90</div>
</div>
</body></html>
